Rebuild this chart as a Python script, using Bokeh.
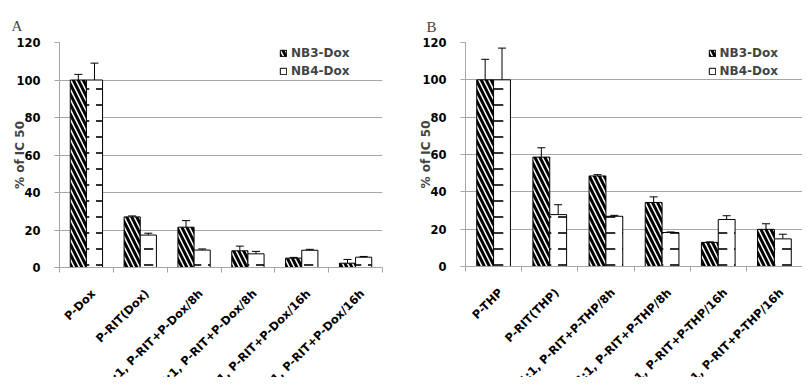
import math
from bokeh.plotting import figure
from bokeh.models import (ColumnDataSource, Whisker, TeeHead, FixedTicker,
                          Legend, LegendItem, Range1d)
from bokeh.layouts import row
from bokeh.embed import file_html
from bokeh.resources import INLINE

# ---------------- data ----------------
categories_A = ["P-Dox", "P-RIT(Dox)", "1:1, P-RIT+P-Dox/8h", "4:1, P-RIT+P-Dox/8h",
                "1:1, P-RIT+P-Dox/16h", "4:1, P-RIT+P-Dox/16h"]
nb3_A = [100, 27.0, 21.5, 8.9, 5.0, 2.3]
nb3_A_err = [3.0, 0.5, 3.5, 2.5, 0.4, 2.0]
nb4_A = [100, 17.3, 9.3, 7.3, 9.2, 5.5]
nb4_A_err = [9.0, 1.0, 0.6, 1.3, 0.5, 0.4]

categories_B = ["P-THP", "P-RIT(THP)", "1:1, P-RIT+P-THP/8h", "4:1, P-RIT+P-THP/8h",
                "1:1, P-RIT+P-THP/16h", "4:1, P-RIT+P-THP/16h"]
nb3_B = [100, 58.6, 48.5, 34.3, 12.9, 19.9]
nb3_B_err = [11.0, 5.0, 0.7, 3.0, 0.3, 3.0]
nb4_B = [100, 27.8, 26.9, 18.2, 25.2, 14.8]
nb4_B_err = [17.0, 5.3, 0.5, 0.3, 2.0, 2.5]

series_names = ["NB3-Dox", "NB4-Dox"]
y_ticks = [0, 20, 40, 60, 80, 100, 120]
y_axis_title = "% of IC 50"

# ---------------- style ----------------
FONT = "DejaVu Sans"
GRID = "#a6a6a6"
BAR_W = 0.30
LABEL_SHIFT = 0.125   # rotated category labels end slightly right of the centre


def panel(letter, cats, v3, e3, v4, e4, frame_w, frame_h, min_left, min_right, top,
          title_offset, title_standoff, leg_x):
    n = len(cats)
    centers = list(range(n))
    bounds = [i - 0.5 for i in range(n + 1)]
    label_pos = [c + LABEL_SHIFT for c in centers]
    x3 = [c - BAR_W / 2 for c in centers]
    x4 = [c + BAR_W / 2 for c in centers]
    p = figure(frame_width=frame_w, frame_height=frame_h,
               output_backend="svg", toolbar_location=None,
               x_range=Range1d(-0.5, n - 0.5), y_range=Range1d(0, 120),
               min_border_left=min_left, min_border_right=min_right,
               min_border_top=top, min_border_bottom=10)
    p.outline_line_color = None
    p.xgrid.visible = False
    p.ygrid.grid_line_color = GRID
    p.ygrid.grid_line_width = 1

    s3 = ColumnDataSource(dict(x=x3, top=v3, up=[a + b for a, b in zip(v3, e3)],
                               lo=[a - b for a, b in zip(v3, e3)]))
    s4 = ColumnDataSource(dict(x=x4, top=v4, up=[a + b for a, b in zip(v4, e4)],
                               lo=[a - b for a, b in zip(v4, e4)]))
    r3 = p.vbar(x="x", top="top", bottom=0, width=BAR_W, source=s3,
                fill_color="white", line_color="black", line_width=1,
                hatch_pattern="\\", hatch_color="black", hatch_weight=3, hatch_scale=10)
    r4 = p.vbar(x="x", top="top", bottom=0, width=BAR_W, source=s4,
                fill_color="white", line_color="black", line_width=1,
                hatch_pattern='"', hatch_color="black", hatch_weight=1.6, hatch_scale=16)
    for s in (s3, s4):
        w = Whisker(base="x", upper="up", lower="lo", source=s,
                    line_color="black", line_width=1,
                    upper_head=TeeHead(size=8, line_color="black", line_width=1),
                    lower_head=TeeHead(size=8, line_color="black", line_width=1))
        p.add_layout(w)

    # y axis
    p.yaxis.ticker = FixedTicker(ticks=y_ticks)
    p.yaxis.axis_line_color = GRID
    p.yaxis.major_tick_line_color = GRID
    p.yaxis.major_tick_out = 5
    p.yaxis.major_tick_in = 0
    p.yaxis.minor_tick_line_color = None
    p.yaxis.major_label_text_font = FONT
    p.yaxis.major_label_text_font_style = "bold"
    p.yaxis.major_label_text_font_size = "11.5px"
    p.yaxis.major_label_text_color = "black"
    p.yaxis.major_label_standoff = 14
    p.yaxis.axis_label = y_axis_title
    p.yaxis.axis_label_text_font = FONT
    p.yaxis.axis_label_text_font_style = "bold"
    p.yaxis.axis_label_text_font_size = "12px"
    p.yaxis.axis_label_standoff = -14

    # x axis: labels at category centres, tick marks at category boundaries
    p.xaxis.ticker = FixedTicker(ticks=label_pos, minor_ticks=bounds)
    p.xaxis.major_label_overrides = {c: t for c, t in zip(label_pos, cats)}
    p.xaxis.major_label_orientation = math.pi / 4
    p.xaxis.axis_line_color = GRID
    p.xaxis.major_tick_line_color = None
    p.xaxis.major_tick_out = 0
    p.xaxis.minor_tick_line_color = GRID
    p.xaxis.minor_tick_out = 5
    p.xaxis.minor_tick_in = 0
    p.xaxis.major_label_standoff = 19
    p.xaxis.major_label_text_font = FONT
    p.xaxis.major_label_text_font_style = "bold"
    p.xaxis.major_label_text_font_size = "11.5px"
    p.xaxis.major_label_text_color = "black"

    legend = Legend(items=[LegendItem(label=series_names[0], renderers=[r3]),
                           LegendItem(label=series_names[1], renderers=[r4])],
                    location=(leg_x, frame_h - 36), orientation="vertical",
                    label_text_font=FONT, label_text_font_style="bold",
                    label_text_font_size="12px", label_height=13, label_standoff=4,
                    glyph_width=8, glyph_height=8, spacing=4, padding=0, margin=0,
                    border_line_color=None, background_fill_alpha=0)
    p.add_layout(legend, "center")

    p.title.text = letter
    p.title.text_font = "Liberation Serif"
    p.title.text_font_style = "normal"
    p.title.text_font_size = "15px"
    p.title.align = "left"
    p.title.offset = title_offset
    p.title.standoff = title_standoff
    return p


pA = panel("A", categories_A, nb3_A, nb3_A_err, nb4_A, nb4_A_err,
           frame_w=328, frame_h=225, min_left=59, min_right=15, top=41,
           title_offset=-48, title_standoff=18, leg_x=220)
pB = panel("B", categories_B, nb3_B, nb3_B_err, nb4_B, nb4_B_err,
           frame_w=342, frame_h=224, min_left=67, min_right=0, top=42,
           title_offset=-39, title_standoff=15, leg_x=243)

# the reference picture is cropped at its right and bottom edges
layout = row(pA, pB, styles={"overflow": "hidden", "max-height": "377px",
                             "max-width": "802px"})
open("out.html", "w").write(file_html(layout, INLINE))
